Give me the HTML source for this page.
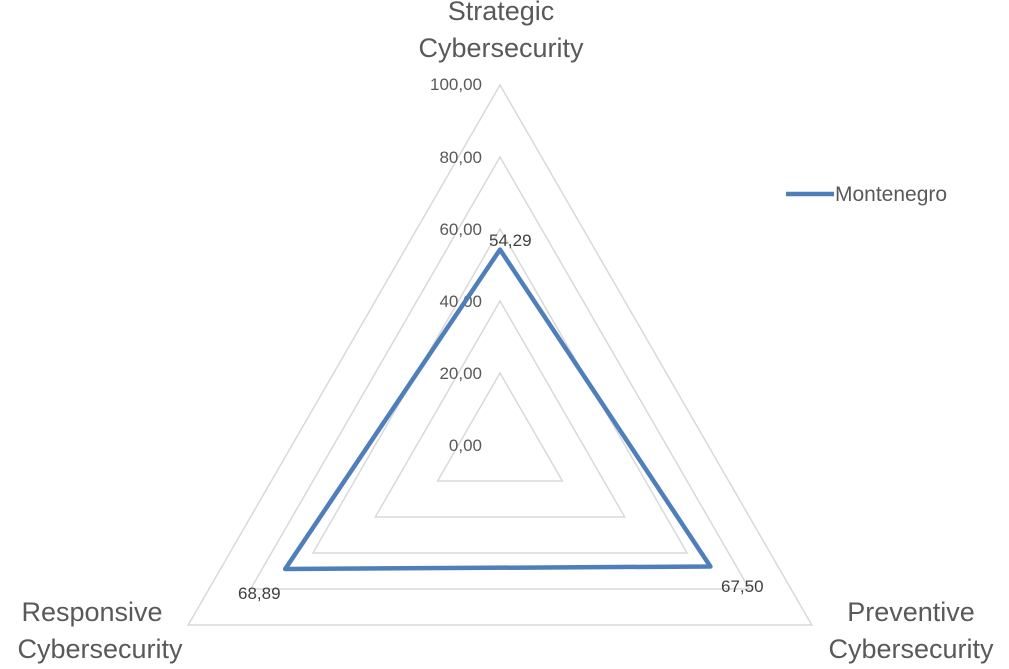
<!DOCTYPE html>
<html><head><meta charset="utf-8"><style>
html,body{margin:0;padding:0;background:#fff;}
svg{display:block;font-family:"Liberation Sans",Arial,sans-serif;}
</style></head><body>
<svg width="1009" height="669" viewBox="0 0 1009 669" xmlns="http://www.w3.org/2000/svg">
<g fill="none" stroke="#d9d9d9" stroke-width="1.5">
<polygon points="500,85 811.8,625 188.2,625"/>
<polygon points="500,157 749.4,589 250.6,589"/>
<polygon points="500,229 687.1,553 312.9,553"/>
<polygon points="500,301 624.7,517 375.3,517"/>
<polygon points="500,373 562.4,481 437.6,481"/>
</g>
<g fill="#595959" font-size="17" text-anchor="end">
<text x="482" y="90">100,00</text>
<text x="482" y="163">80,00</text>
<text x="482" y="235">60,00</text>
<text x="482" y="307">40,00</text>
<text x="482" y="379">20,00</text>
<text x="482" y="451">0,00</text>
</g>
<polygon points="500,249.6 710.4,566.5 285.2,569" fill="none" stroke="#4f7fba" stroke-width="4.5" stroke-linejoin="round"/>
<g fill="#404040" font-size="17">
<text x="489" y="246">54,29</text>
<text x="721" y="592">67,50</text>
<text x="238" y="599">68,89</text>
</g>
<g fill="#595959" font-size="27" text-anchor="middle">
<text x="501" y="20">Strategic</text>
<text x="501" y="57">Cybersecurity</text>
<text x="911" y="621">Preventive</text>
<text x="911" y="658">Cybersecurity</text>
<text x="92" y="621">Responsive</text>
<text x="100" y="658">Cybersecurity</text>
</g>
<line x1="786" y1="194" x2="834" y2="194" stroke="#4f7fba" stroke-width="4.5"/>
<text x="835" y="201" fill="#595959" font-size="21">Montenegro</text>
</svg>
</body></html>
